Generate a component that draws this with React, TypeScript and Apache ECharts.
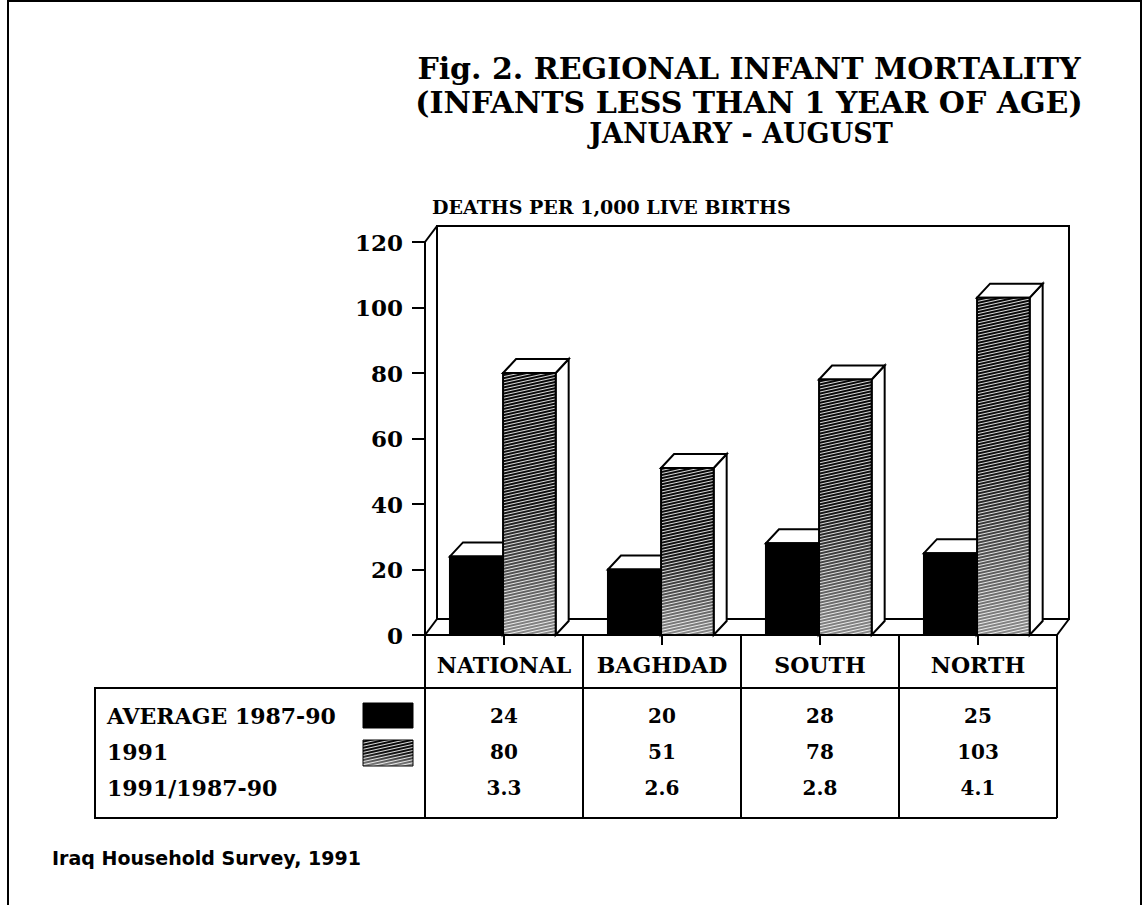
import React, { useEffect, useRef } from 'react';
import * as echarts from 'echarts';

const categories = ['NATIONAL', 'BAGHDAD', 'SOUTH', 'NORTH'];
const avg8790 = [24, 20, 28, 25];
const y1991 = [80, 51, 78, 103];
const ratio = [3.3, 2.6, 2.8, 4.1];
const rowLabels = ['AVERAGE 1987-90', '1991', '1991/1987-90'];
const yMin = 0;
const yMax = 120;
const yInterval = 20;
const titleLines = [
  'Fig. 2. REGIONAL INFANT MORTALITY',
  '(INFANTS LESS THAN 1 YEAR OF AGE)',
  'JANUARY - AUGUST',
];
const yAxisTitle = 'DEATHS PER 1,000 LIVE BIRTHS';
const sourceText = 'Iraq Household Survey, 1991';

const SERIF = '"DejaVu Serif", "Liberation Serif", serif';
const SANS = '"DejaVu Sans", "Noto Sans", sans-serif';

function makeHatch() {
  const c = document.createElement('canvas');
  c.width = 4;
  c.height = 3;
  const ctx = c.getContext('2d')!;
  ctx.clearRect(0, 0, 4, 3);
  ctx.fillStyle = 'rgba(255,255,255,0.85)';
  ctx.fillRect(0, 0, 4, 1);
  return c;
}

export default function App() {
  const ref = useRef<HTMLDivElement>(null);
  useEffect(() => {
    if (!ref.current) return;
    const chart = echarts.init(ref.current, undefined, { renderer: 'svg' });
    const hatchCanvas = makeHatch();
    const hatchPattern: any = {
      image: hatchCanvas,
      repeat: 'repeat',
      imageWidth: 4,
      imageHeight: 3,
      rotation: -0.22,
    };
    const gradient = () =>
      new echarts.graphic.LinearGradient(0, 0, 0, 1, [
        { offset: 0, color: '#080808' },
        { offset: 0.5, color: '#101010' },
        { offset: 1, color: '#8a8a8a' },
      ]);

    const BDX = 13;
    const BDY = -14;
    const makeBar = (kind: number) => (params: any, api: any) => {
      const cat = api.value(0);
      const v = api.value(1);
      const top = api.coord([cat, v]);
      const base = api.coord([cat, 0]);
      const band = api.size([1, 0])[0];
      const w = band * 0.333;
      const x0 = kind === 0 ? top[0] - band * 0.342 : top[0] - band * 0.006;
      const ty = top[1];
      const by = base[1];
      const stroke = { stroke: '#000', lineWidth: 2, lineJoin: 'miter' };
      const children: any[] = [];
      children.push({
        type: 'polygon',
        shape: { points: [[x0 + w, ty], [x0 + w + BDX, ty + BDY], [x0 + w + BDX, by + BDY], [x0 + w, by]] },
        style: { fill: '#fff', ...stroke },
      });
      children.push({
        type: 'polygon',
        shape: { points: [[x0, ty], [x0 + BDX, ty + BDY], [x0 + w + BDX, ty + BDY], [x0 + w, ty]] },
        style: { fill: '#fff', ...stroke },
      });
      if (kind === 0) {
        children.push({
          type: 'rect',
          shape: { x: x0, y: ty, width: w, height: by - ty },
          style: { fill: '#000', ...stroke },
        });
      } else {
        children.push({
          type: 'rect',
          shape: { x: x0, y: ty, width: w, height: by - ty },
          style: { fill: gradient(), stroke: 'none' },
        });
        children.push({
          type: 'rect',
          shape: { x: x0, y: ty, width: w, height: by - ty },
          style: { fill: hatchPattern, stroke: 'none' },
        });
        children.push({
          type: 'rect',
          shape: { x: x0, y: ty, width: w, height: by - ty },
          style: { fill: 'none', ...stroke },
        });
      }
      return { type: 'group', children };
    };

    const renderWalls = (params: any) => {
      const cs = params.coordSys;
      const dx = 12;
      const dy = -16;
      const st = { stroke: '#000', lineWidth: 2 };
      return {
        type: 'group',
        children: [
          { type: 'rect', shape: { x: cs.x + dx, y: cs.y + dy, width: cs.width, height: cs.height }, style: { fill: '#fff', ...st } },
          { type: 'line', shape: { x1: cs.x, y1: cs.y, x2: cs.x + dx, y2: cs.y + dy }, style: st },
          { type: 'line', shape: { x1: cs.x, y1: cs.y + cs.height, x2: cs.x + dx, y2: cs.y + cs.height + dy }, style: st },
          { type: 'line', shape: { x1: cs.x + cs.width, y1: cs.y + cs.height, x2: cs.x + cs.width + dx, y2: cs.y + cs.height + dy }, style: st },
        ],
      };
    };

    const tableCells: { cat: number; row: number; text: string }[] = [];
    categories.forEach((_, i) => {
      tableCells.push({ cat: i, row: 0, text: String(avg8790[i]) });
      tableCells.push({ cat: i, row: 1, text: String(y1991[i]) });
      tableCells.push({ cat: i, row: 2, text: ratio[i].toFixed(1) });
    });

    const renderCell = (params: any, api: any) => {
      const p = api.coord([api.value(0), api.value(1)]);
      return {
        type: 'text',
        x: p[0],
        y: p[1],
        style: {
          text: tableCells[params.dataIndex].text,
          fill: '#000',
          fontSize: 20,
          fontWeight: 'bold',
          fontFamily: SERIF,
          align: 'center',
          verticalAlign: 'middle',
        },
      };
    };

    const txt = (text: string, x: number, y: number, size: number, align: string, family = SERIF, weight = 'bold') => ({
      type: 'text',
      x,
      y,
      style: {
        text,
        fill: '#000',
        fontSize: size,
        fontWeight: weight,
        fontFamily: family,
        align,
        verticalAlign: 'middle',
        textAlign: align,
        textVerticalAlign: 'middle',
      },
    });

    chart.setOption({
      animation: false,
      backgroundColor: '#fff',
      textStyle: { fontFamily: SERIF, color: '#000' },
      grid: [
        { left: 425, top: 242, width: 632, height: 393 },
        { left: 425, top: 635, width: 632, height: 183 },
        { left: 425, top: 698, width: 632, height: 108 },
      ],
      xAxis: [
        {
          type: 'category',
          gridIndex: 0,
          data: categories,
          axisLine: { show: true, lineStyle: { color: '#000', width: 2 } },
          axisTick: { show: true, alignWithLabel: true, length: 10, lineStyle: { color: '#000', width: 2 } },
          axisLabel: { color: '#000', fontSize: 22, fontWeight: 'bold', fontFamily: SERIF, margin: 19, interval: 0 },
          splitLine: { show: false },
          z: 5,
        },
        {
          type: 'category',
          gridIndex: 1,
          data: categories,
          axisLine: { show: false },
          axisTick: { show: false },
          axisLabel: { show: false },
          splitLine: { show: true, lineStyle: { color: '#000', width: 2 } },
        },
        {
          type: 'category',
          gridIndex: 2,
          data: categories,
          axisLine: { show: false },
          axisTick: { show: false },
          axisLabel: { show: false },
          splitLine: { show: false },
        },
      ],
      yAxis: [
        {
          type: 'value',
          gridIndex: 0,
          min: yMin,
          max: yMax,
          interval: yInterval,
          axisLine: { show: true, lineStyle: { color: '#000', width: 2 } },
          axisTick: { show: true, length: 13, lineStyle: { color: '#000', width: 2 } },
          axisLabel: { color: '#000', fontSize: 23, fontWeight: 'bold', fontFamily: SERIF, margin: 22 },
          splitLine: { show: false },
          z: 5,
        },
        { type: 'value', gridIndex: 1, show: false },
        {
          type: 'category',
          gridIndex: 2,
          inverse: true,
          data: rowLabels,
          axisLine: { show: false },
          axisTick: { show: false },
          splitLine: { show: false },
          axisLabel: { color: '#000', fontSize: 22, fontWeight: 'bold', fontFamily: SERIF, align: 'left', margin: 318 },
        },
      ],
      series: [
        {
          type: 'custom',
          name: 'walls',
          xAxisIndex: 0,
          yAxisIndex: 0,
          z: 1,
          clip: false,
          renderItem: renderWalls,
          data: [[0, 0]],
          silent: true,
        },
        {
          type: 'custom',
          name: 'AVERAGE 1987-90',
          xAxisIndex: 0,
          yAxisIndex: 0,
          z: 2,
          clip: false,
          renderItem: makeBar(0),
          data: avg8790.map((v, i) => [i, v]),
        },
        {
          type: 'custom',
          name: '1991',
          xAxisIndex: 0,
          yAxisIndex: 0,
          z: 3,
          clip: false,
          renderItem: makeBar(1),
          data: y1991.map((v, i) => [i, v]),
        },
        {
          type: 'custom',
          name: 'table',
          xAxisIndex: 2,
          yAxisIndex: 2,
          z: 4,
          clip: false,
          renderItem: renderCell,
          data: tableCells.map((c) => [c.cat, c.row]),
        },
      ],
      graphic: [
        { type: 'polyline', shape: { points: [[8, 905], [8, 1], [1141, 1], [1141, 905]] }, style: { fill: 'none', stroke: '#000', lineWidth: 2 } },
        txt(titleLines[0], 749, 68, 30, 'center'),
        txt(titleLines[1], 749, 102, 30, 'center'),
        txt(titleLines[2], 741, 133, 27, 'center'),
        txt(yAxisTitle, 432, 207, 19, 'left'),
        txt(sourceText, 52, 858, 19, 'left', SANS),
        { type: 'polyline', shape: { points: [[1057, 688], [95, 688], [95, 818], [1057, 818]] }, style: { fill: 'none', stroke: '#000', lineWidth: 2 } },
        { type: 'rect', shape: { x: 363, y: 703, width: 50, height: 25 }, style: { fill: '#000', stroke: '#000', lineWidth: 1 } },
        { type: 'rect', shape: { x: 363, y: 740, width: 50, height: 26 }, style: { fill: gradient(), stroke: 'none' } },
        { type: 'rect', shape: { x: 363, y: 740, width: 50, height: 26 }, style: { fill: hatchPattern, stroke: '#000', lineWidth: 1 } },
      ],
    });
    return () => chart.dispose();
  }, []);
  return <div ref={ref} style={{ position: 'absolute', left: 0, top: 0, width: 1143, height: 905 }} />;
}
